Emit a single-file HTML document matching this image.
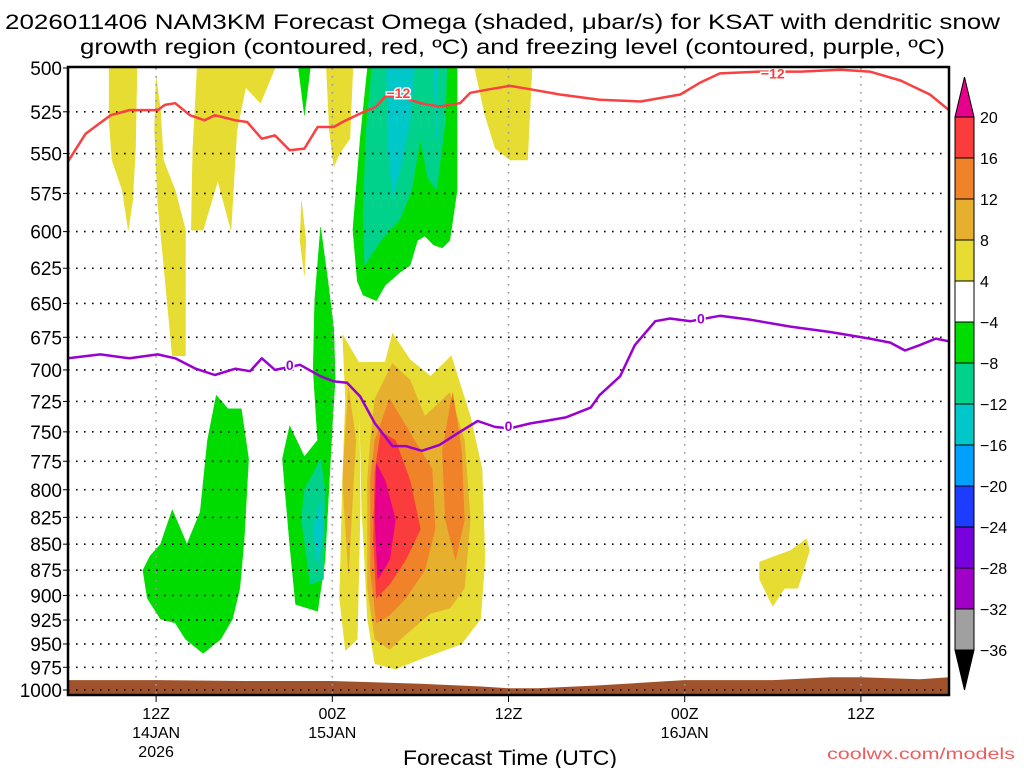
<!DOCTYPE html>
<html><head><meta charset="utf-8">
<style>
html,body{margin:0;padding:0;background:#fff;}
svg{display:block;font-family:"Liberation Sans",sans-serif;}
</style></head>
<body>
<svg id="chart" width="1024" height="768" viewBox="0 0 1024 768" xmlns="http://www.w3.org/2000/svg">
<text x="5" y="29" font-size="21" textLength="995" lengthAdjust="spacingAndGlyphs">2026011406 NAM3KM Forecast Omega (shaded, μbar/s) for KSAT with dendritic snow</text>
<text x="80" y="54" font-size="21" textLength="865" lengthAdjust="spacingAndGlyphs">growth region (contoured, red, ºC) and freezing level (contoured, purple, ºC)</text>
<g id="plot"></g>
<g id="lines"></g>
<g id="axes"></g>
<g id="cbar"></g>
<text x="403" y="765" font-size="21" textLength="214" lengthAdjust="spacingAndGlyphs">Forecast Time (UTC)</text>
<text x="827" y="759" font-size="16" fill="#f05a5a" textLength="188" lengthAdjust="spacingAndGlyphs">coolwx.com/models</text>
</svg>
<script>
// ---- data ----
const pressureLevels = [500,525,550,575,600,625,650,675,700,725,750,775,800,825,850,875,900,925,950,975,1000];
const timeTickHours = [6,18,30,42,54];
const timeTickLabels = [["12Z","14JAN","2026"],["00Z","15JAN"],["12Z"],["00Z","16JAN"],["12Z"]];
const cbarLevels = [20,16,12,8,4,-4,-8,-12,-16,-20,-24,-28,-32,-36];
const cbarColors = ["#fa3c3c","#f0822a","#e6af2d","#e6dc32","#ffffff","#00dc00","#00d28c","#00c8c8","#00a0ff","#1e3cff","#7800dc","#a000c8","#a0a0a0"];
const groundHours = [0,6,12,18,24,28,30,32,36,40,42,48,52,54,56,58,60];
const groundPsfc = [989,989,990,990,993,996,998,998,995,991,989,989,986,986,987,988,986];
const red12Hours = [0,1.2,2.9,4.2,6.1,6.6,7.3,8.3,9.3,10.0,11.4,12.2,13.2,14.1,15.1,16.1,17.0,18.1,18.7,19.9,21.0,21.6,22.6,24.0,25.3,26.7,27.4,28.7,30.1,31.5,33.5,36.2,39.0,41.7,43.1,44.4,47.1,49.9,52.6,54.6,56.7,58.7,60];
const red12Press = [555,538,527,524,524,521,520,527,530,527,530,531,541,539,548,547,534,534,531,526,522,516,516,520,522,520,514,512,510,512,515,518,519,515,508,503,502,502,501,502,507,515,524];
const frzHours = [0,2.2,4.2,6.1,7.3,8.7,10.0,11.4,12.4,13.2,14.1,15.8,17.2,18.1,19.0,19.9,20.9,22.1,23.0,24.1,25.3,26.7,27.9,29.1,30.1,31.5,32.5,33.9,35.6,36.2,37.6,38.6,40.0,41.0,42.4,44.4,46.5,49.2,51.9,54.6,56.0,57.0,58.0,59.1,60];
const frzPress = [691,688,691,688,691,699,704,699,701,691,700,696,705,709,710,721,743,762,762,766,761,750,741,746,747,743,741,738,730,720,705,681,663,661,663,659,662,667,671,676,679,685,681,676,678];
const redLabels = [[22.5,514],[48.0,503]];
const frzLabels = [[15.1,696],[30.0,745],[43.1,661]];
// shaded omega regions: [colorIndex into cbarColors or "mag"], vertices [hour, hPa]
const yellowA = [[2.8,500],[4.7,500],[4.6,547],[4.4,580],[4.1,599],[3.7,573],[3.0,554],[2.8,530]];
const yellowB = [[6.0,505],[6.3,524],[6.5,554],[7.3,573],[8.0,599],[8.0,689],[7.1,689],[6.5,620],[6.1,580],[5.9,536]];
const yellowC = [[8.8,500],[14.1,500],[13.1,520],[12.1,511],[11.5,536],[11.1,599],[10.2,567],[9.2,599],[8.4,599],[8.5,547]];
const yellowD = [[15.9,580],[16.2,606],[16.1,630],[15.8,606]];
const yellowE = [[17.6,500],[19.4,500],[19.2,541],[18.5,550],[18.1,558],[17.8,536]];
const yellowF = [[27.7,500],[31.6,500],[31.3,554],[30.1,554],[29.1,547],[28.4,527]];
const yellowG = [[18.7,673],[19.8,694],[19.9,817],[19.7,945],[18.9,957],[18.5,903],[18.7,792],[18.9,723]];
const yellowH = [[19.8,694],[21.6,694],[22.1,672],[23.3,692],[24.7,705],[26.1,689],[27.4,737],[28.2,782],[28.4,865],[28.1,924],[26.8,950],[24.0,966],[22.3,977],[20.9,971],[20.4,924],[20.2,865],[20.0,817]];
const yellowI = [[47.1,867],[49.2,856],[50.3,845],[50.5,856],[50.2,870],[49.7,893],[48.8,893],[48.0,911],[47.1,884]];
const lorangeA = [[19.1,714],[19.6,757],[19.3,827],[19.1,879],[18.7,792],[18.9,748]];
const lorangeB = [[22.1,695],[23.3,708],[24.3,737],[26.0,718],[27.0,757],[27.4,827],[27.0,893],[26.0,913],[24.7,918],[23.0,940],[21.9,956],[20.9,945],[20.4,893],[20.4,792],[20.6,757],[20.9,723]];
const orangeA = [[21.9,723],[23.6,757],[24.8,782],[25.0,836],[24.3,875],[23.0,903],[21.9,920],[21.0,928],[20.6,875],[20.6,792],[20.9,757]];
const orangeB = [[26.2,718],[26.8,766],[27.0,827],[26.4,865],[25.7,827],[25.5,766]];
const redA = [[21.3,750],[22.3,757],[23.3,792],[24.0,836],[23.0,865],[21.9,889],[21.0,903],[20.8,845],[20.9,784]];
const magentaA = [[21.0,777],[21.6,792],[22.3,827],[21.9,865],[21.1,884],[20.9,827]];
const greenA = [[15.7,500],[16.5,500],[16.1,527]];
const greenB = [[20.4,500],[26.5,500],[26.5,573],[26.0,606],[25.5,611],[24.9,609],[24.3,603],[23.8,606],[23.3,623],[22.6,628],[21.6,637],[21.0,648],[20.1,644],[19.7,634],[19.4,599],[19.9,541]];
const greenC = [[17.2,597],[17.7,634],[18.1,669],[18.2,707],[18.0,745],[17.5,865],[17.0,916],[15.5,909],[15.1,850],[14.6,773],[15.1,745],[16.1,771],[17.0,757],[16.7,700],[16.8,648]];
const greenD = [[10.1,720],[10.9,731],[11.8,731],[12.3,773],[12.0,845],[11.7,893],[11.2,924],[10.4,945],[9.2,960],[8.0,945],[7.3,928],[6.3,924],[5.4,903],[5.1,875],[5.6,861],[6.3,850],[7.1,818],[8.1,850],[9.0,820],[9.5,757]];
const tealA = [[20.7,500],[25.8,500],[25.7,530],[25.1,573],[24.5,565],[24.0,541],[23.4,573],[22.6,592],[21.3,606],[20.2,623],[20.1,588],[20.3,536]];
const tealB = [[17.2,773],[17.5,800],[17.4,884],[16.5,889],[15.9,827],[16.1,800]];
const cyanA = [[21.7,500],[23.6,500],[23.3,530],[22.6,561],[22.1,577],[21.8,547]];
const cyanB = [[24.9,500],[25.2,500],[25.1,541]];
const cyanC = [[17.2,810],[17.4,836],[17.0,870],[16.7,836]];

// ---- scales ----
const X0=68, X1=949, Y0=68, Y1=690;
function xs(h){return X0 + h*(X1-X0)/60;}
function ys(p){return Y0 + (Y1-Y0)*Math.log(p/500)/Math.log(2);}
const NS="http://www.w3.org/2000/svg";
function mk(tag, attrs, parent){const e=document.createElementNS(NS,tag);for(const k in attrs)e.setAttribute(k,attrs[k]);parent.appendChild(e);return e;}
const plot=document.getElementById('plot'), lines=document.getElementById('lines'), axes=document.getElementById('axes'), cbar=document.getElementById('cbar');

function region(pts,color,name){
  const d=pts.map((q,i)=>(i?'L':'M')+xs(q[0]).toFixed(1)+' '+ys(q[1]).toFixed(1)).join(' ')+'Z';
  const e=mk('path',{d:d,fill:color,stroke:color,'stroke-width':'0.5','stroke-linejoin':'round'},plot);
  
  
}
const Y="#e6dc32", LO="#e6af2d", OR="#f0822a", RD="#fa3c3c", MG="#e6008c", GR="#00dc00", TL="#00d28c", CY="#00c8c8";
region(yellowA,Y,'omega-region-4-8');region(yellowB,Y,'omega-region-4-8');region(yellowC,Y,'omega-region-4-8');
region(yellowD,Y,'omega-region-4-8');region(yellowE,Y,'omega-region-4-8');region(yellowF,Y,'omega-region-4-8');
region(yellowG,Y,'omega-region-4-8');region(yellowH,Y,'omega-region-4-8');region(yellowI,Y,'omega-region-4-8');
region(lorangeA,LO,'omega-region-8-12');region(lorangeB,LO,'omega-region-8-12');
region(orangeA,OR,'omega-region-12-16');region(orangeB,OR,'omega-region-12-16');
region(redA,RD,'omega-region-16-20');region(magentaA,MG,'omega-region-above-20');
region(greenA,GR,'omega-region-minus4-minus8');region(greenB,GR,'omega-region-minus4-minus8');
region(greenC,GR,'omega-region-minus4-minus8');region(greenD,GR,'omega-region-minus4-minus8');
region(tealA,TL,'omega-region-minus8-minus12');region(tealB,TL,'omega-region-minus8-minus12');
region(cyanA,CY,'omega-region-minus12-minus16');region(cyanB,CY,'omega-region-minus12-minus16');region(cyanC,CY,'omega-region-minus12-minus16');

// ground
(function(){
  let d='M'+xs(groundHours[0])+' 695';
  groundHours.forEach((h,i)=>{d+=' L'+xs(h).toFixed(1)+' '+ys(groundPsfc[i]).toFixed(1);});
  d+=' L'+xs(groundHours[groundHours.length-1])+' 695Z';
  const g=mk('path',{d:d,fill:'#a0522d'},plot);
  
  
})();

// grid
pressureLevels.forEach(p=>{
  if(p===500) return;
  const l=mk('line',{x1:X0,x2:X1,y1:ys(p),y2:ys(p),stroke:'#000','stroke-width':'1.6','stroke-dasharray':'1.6,6.4'},plot);
  
  
});
timeTickHours.forEach(h=>{
  const l=mk('line',{x1:xs(h),x2:xs(h),y1:Y0,y2:695,stroke:'#999','stroke-width':'1.6','stroke-dasharray':'1.6,6.4'},plot);
  
  
});

// contour lines
function cline(hs,ps,color,name){
  const d=hs.map((h,i)=>(i?'L':'M')+xs(h).toFixed(1)+' '+ys(ps[i]).toFixed(1)).join(' ');
  const e=mk('path',{d:d,fill:'none',stroke:color,'stroke-width':'2.5','stroke-linejoin':'round'},lines);
  
  
}
cline(red12Hours,red12Press,'#fa4040','dgz-minus12-contour');
cline(frzHours,frzPress,'#9a00d0','freezing-level-contour');
function clabel(list,txt,color,name){
  list.forEach(q=>{
    const t=mk('text',{x:xs(q[0]),y:ys(q[1])+5,'font-size':'14','font-weight':'bold',fill:color,'text-anchor':'middle',stroke:'#fff','stroke-width':'3','paint-order':'stroke'},lines);
    t.textContent=txt;
    
    
  });
}
clabel(redLabels,'−12','#fa4040','dgz-contour-label');
clabel(frzLabels,'0','#9a00d0','freezing-contour-label');

// frame
const fr=mk('rect',{x:X0,y:67,width:X1-X0,height:628,fill:'none',stroke:'#000','stroke-width':'2.5'},axes);


pressureLevels.forEach(p=>{
  const t=mk('text',{x:62,y:ys(p)+7,'font-size':'19','text-anchor':'end'},axes);
  t.textContent=p;
  
  
  const tk=mk('line',{x1:63,x2:X0,y1:ys(p),y2:ys(p),stroke:'#000','stroke-width':'1'},axes);
  
  
});
timeTickHours.forEach((h,i)=>{
  const tk=mk('line',{x1:xs(h),x2:xs(h),y1:695,y2:702,stroke:'#000','stroke-width':'1'},axes);
  
  
  timeTickLabels[i].forEach((s,j)=>{
    const t=mk('text',{x:xs(h),y:719+j*19,'font-size':'16','text-anchor':'middle'},axes);
    t.textContent=s;
    
    
  });
});

// colorbar
(function(){
  const bx=955, bw=19, top=117, step=(650-117)/13;
  const tri=mk('path',{d:`M${bx} ${top} L${bx+bw/2} 77 L${bx+bw} ${top}Z`,fill:MG,stroke:'#000','stroke-width':'1'},cbar);
  
  
  cbarColors.forEach((c,i)=>{
    const r=mk('rect',{x:bx,y:top+i*step,width:bw,height:step,fill:c,stroke:'#000','stroke-width':'1'},cbar);
    
    
  });
  const b=top+13*step;
  const tri2=mk('path',{d:`M${bx} ${b} L${bx+bw/2} 690 L${bx+bw} ${b}Z`,fill:'#000',stroke:'#000','stroke-width':'1'},cbar);
  
  
  cbarLevels.forEach((v,i)=>{
    const t=mk('text',{x:980,y:top+i*step+6,'font-size':'16'},cbar);
    t.textContent=(v<0?'−':'')+Math.abs(v);
    
    
  });
})();
</script>
</body></html>
